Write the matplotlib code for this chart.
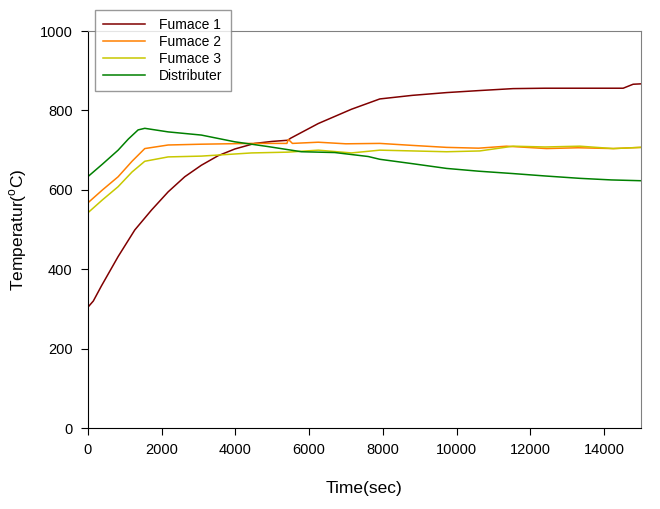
import matplotlib
matplotlib.use("Agg")
import matplotlib.pyplot as plt

plt.rcParams['font.family'] = ['Liberation Sans', 'DejaVu Sans']

# values (time in sec, temperature in deg C)
f1_t = [0, 150, 370, 823, 1275, 1727, 2180, 2630, 3080, 3535, 3990, 4530, 5000,
        5430, 5500, 6250, 7150, 7920, 8800, 9730, 10600, 11535, 12400, 13345,
        14000, 14520, 14790, 15000]
f1_y = [304, 320, 358, 432, 499, 549, 595, 633, 662, 686, 703, 717, 722,
        725, 730, 767, 803, 829, 838, 845, 850, 855, 856, 856,
        856, 856, 866, 867]

f2_t = [0, 400, 823, 1200, 1546, 2180, 3080, 4440, 5400, 5440, 5550, 6250, 7000,
        7920, 8800, 9730, 10600, 11355, 12440, 13300, 14250, 15000]
f2_y = [567, 600, 633, 672, 704, 713, 715, 717, 717, 727, 717, 720, 716,
        717, 712, 707, 705, 710, 704, 706, 704, 707]

f3_t = [0, 400, 823, 1200, 1546, 2180, 3080, 4440, 5430, 6250, 7150, 7920, 8825,
        9730, 10630, 11085, 11535, 12400, 13345, 14250, 15000]
f3_y = [542, 575, 608, 645, 672, 683, 685, 693, 695, 700, 693, 700, 698,
        696, 698, 704, 710, 708, 710, 704, 707]

dist_t = [0, 400, 823, 1100, 1365, 1546, 2180, 3080, 3990, 4890, 5795, 6700, 7605,
          7920, 8800, 9730, 10600, 11535, 12400, 13345, 14200, 15000]
dist_y = [633, 665, 700, 728, 751, 755, 746, 738, 721, 709, 696, 694, 684,
          677, 666, 654, 647, 641, 635, 629, 625, 623]

series = [
    ("Fumace 1", f1_t, f1_y, "#800000"),
    ("Fumace 2", f2_t, f2_y, "#FF8000"),
    ("Fumace 3", f3_t, f3_y, "#C8C800"),
    ("Distributer", dist_t, dist_y, "#008000"),
]

fig = plt.figure(figsize=(6.6, 5.09), dpi=100)
ax = fig.add_axes([0.133, 0.159, 0.838, 0.780])

for name, t, y, c in series:
    ax.plot(t, y, color=c, lw=1.1, label=name)

ax.set_xlim(0, 15000)
ax.set_ylim(0, 1000)
ax.set_xticks(range(0, 15000, 2000))
ax.set_yticks(range(0, 1001, 200))
ax.tick_params(direction='out', length=5, width=0.8, labelsize=10.5, pad=6)

for side in ['top', 'right']:
    ax.spines[side].set_color('#808080')
for side in ['left', 'bottom']:
    ax.spines[side].set_color('black')

ax.set_xlabel("Time(sec)", fontsize=12.5, labelpad=17)
ax.set_ylabel(r"Temperatur($^{\mathregular{o}}$C)", fontsize=12.5, labelpad=8)

leg = fig.legend(loc='upper left', bbox_to_anchor=(95 / 660, 1 - 10 / 509),
                 borderaxespad=0, fontsize=10, frameon=True, fancybox=False,
                 handlelength=3.0, handletextpad=1.0, labelspacing=0.2,
                 borderpad=0.6)
leg.get_frame().set_edgecolor('#808080')
leg.get_frame().set_linewidth(1.0)

fig.savefig("out.png", dpi=100)
